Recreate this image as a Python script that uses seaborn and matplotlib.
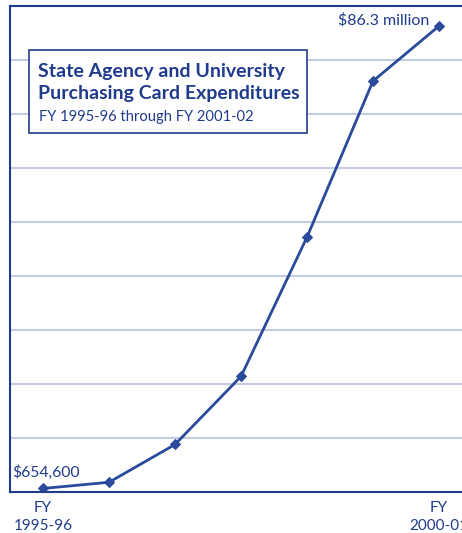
import matplotlib
matplotlib.use("Agg")
import matplotlib.pyplot as plt
import seaborn as sns
import pandas as pd

years = ["1995-96", "1996-97", "1997-98", "1998-99", "1999-00", "2000-01", "2001-02"]
expend_millions = [0.6546, 1.8, 8.8, 21.4, 47.2, 76.1, 86.3]
tick_labels = ["FY\n1995-96", "FY\n2000-01"]

NAVY = "#1f3b8c"
LINE = "#2a4a9b"
GRID = "#c2cbe2"

sns.set_theme(style="white")
plt.rcParams["font.family"] = ["Lato", "DejaVu Sans"]

df = pd.DataFrame({"idx": range(len(years)), "value": expend_millions})

fig = plt.figure(figsize=(4.62, 5.33), dpi=100)
W, H = 462, 533
left, right, top, bottom = 10, 472, 6, 492
ax = fig.add_axes([left / W, 1 - bottom / H, (right - left) / W, (bottom - top) / H])

sns.lineplot(data=df, x="idx", y="value", ax=ax, color=LINE, linewidth=2,
             marker="D", markersize=5.5, markeredgecolor=LINE, markerfacecolor=LINE)

ax.set_xlim(-0.5, 6.5)
ax.set_ylim(0, 90)
ax.set_yticks(range(0, 91, 10))
ax.set_yticklabels([])
ax.yaxis.grid(True, color=GRID, linewidth=1.5)
ax.xaxis.grid(False)
ax.set_axisbelow(True)
ax.set_xlabel("")
ax.set_ylabel("")
ax.set_xticks([0, 6])
ax.set_xticklabels(tick_labels, color=NAVY, fontsize=11, linespacing=1.35)
ax.tick_params(axis="x", direction="out", length=3, width=1, color=NAVY, pad=3.5)
ax.tick_params(axis="y", length=0)
for s in ["left", "bottom", "top", "right"]:
    ax.spines[s].set_color(NAVY)
    ax.spines[s].set_linewidth(1.5)

ax.annotate(f"${expend_millions[-1]:.1f} million", xy=(6, expend_millions[-1]),
            xytext=(-7, 4), textcoords="offset points", ha="right", va="center",
            color=NAVY, fontsize=11.5)
ax.annotate("$654,600", xy=(0, expend_millions[0]),
            xytext=(2, 6), textcoords="offset points", ha="center", va="bottom",
            color=NAVY, fontsize=11.3)

# title box
bx0, by0, bx1, by1 = 29, 50, 307, 133
box = plt.Rectangle((bx0 / W, 1 - by1 / H), (bx1 - bx0) / W, (by1 - by0) / H,
                    transform=fig.transFigure, facecolor="white", edgecolor=NAVY,
                    linewidth=1.2, zorder=5)
fig.patches.append(box)
fig.text(38 / W, 1 - 71 / H, "State Agency and University", color=NAVY,
         fontsize=14, fontweight="bold", va="center", ha="left", zorder=6)
fig.text(38 / W, 1 - 94 / H, "Purchasing Card Expenditures", color=NAVY,
         fontsize=14, fontweight="bold", va="center", ha="left", zorder=6)
fig.text(39 / W, 1 - 117 / H, "FY 1995-96 through FY 2001-02", color=NAVY,
         fontsize=10.6, va="center", ha="left", zorder=6)

fig.savefig("out.png", dpi=100)
